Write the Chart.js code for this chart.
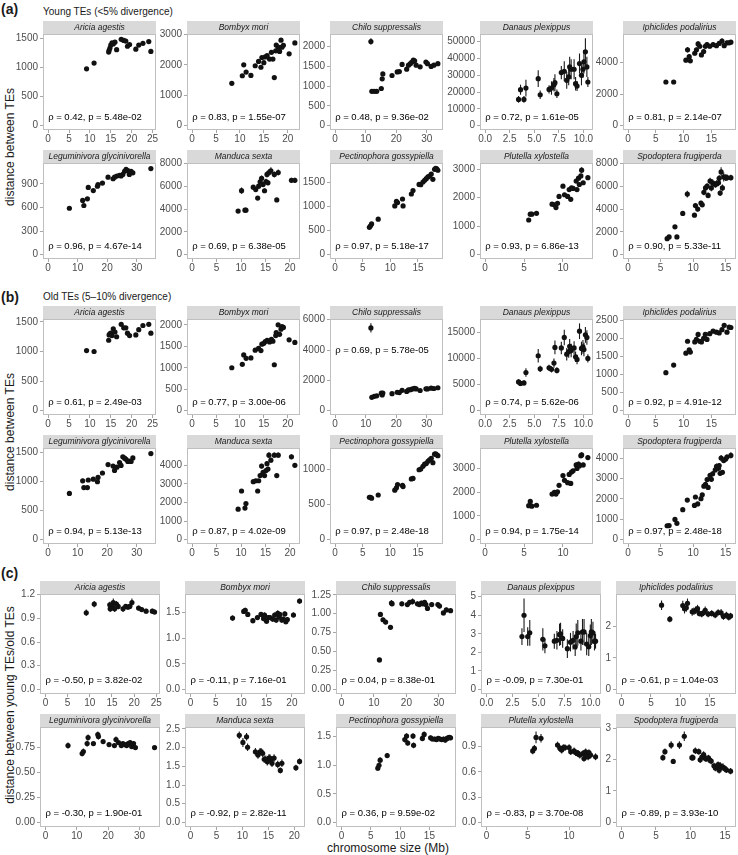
<!DOCTYPE html>
<html><head><meta charset="utf-8">
<script src="https://cdn.jsdelivr.net/npm/chart.js@4.4.1/dist/chart.umd.min.js"></script>
<style>
html,body{margin:0;padding:0;background:#fff;}
body{width:738px;height:855px;position:relative;overflow:hidden;font-family:"Liberation Sans",Arial,Helvetica,sans-serif;}
canvas{position:absolute;}
.t{position:absolute;line-height:1;white-space:nowrap;color:#1a1a1a;}
.yt{position:absolute;width:300px;height:14px;line-height:14px;text-align:center;font-size:12px;color:#1a1a1a;transform:rotate(-90deg);transform-origin:50% 50%;white-space:nowrap;}
</style></head><body>
<div class="t" style="left:1px;top:2px;font-size:14px;font-weight:bold;">(a)</div>
<div class="t" style="left:43px;top:7px;font-size:10px;">Young TEs (&lt;5% divergence)</div>
<div class="t" style="left:1px;top:290px;font-size:14px;font-weight:bold;">(b)</div>
<div class="t" style="left:43px;top:292px;font-size:10px;">Old TEs (5–10% divergence)</div>
<div class="t" style="left:1px;top:566px;font-size:14px;font-weight:bold;">(c)</div>
<div class="yt" style="left:-140px;top:140px;">distance between TEs</div>
<div class="yt" style="left:-140px;top:425px;">distance between TEs</div>
<div class="yt" style="left:-140px;top:698px;">distance between young TEs/old TEs</div>
<div class="t" style="left:288px;top:842px;width:200px;text-align:center;font-size:12px;">chromosome size (Mb)</div>
<script>
// ---------------- DATA ----------------
const SPECIES = ["Aricia agestis","Bombyx mori","Chilo suppressalis","Danaus plexippus","Iphiclides podalirius",
  "Leguminivora glycinivorella","Manduca sexta","Pectinophora gossypiella","Plutella xylostella","Spodoptera frugiperda"];

// chromosome sizes (Mb)
const ariciaSize = [9.2, 11.0, 14.5, 14.6, 14.8, 15.0, 15.3, 15.6, 16.0, 16.4, 17.5, 18.1, 18.6, 19.0, 19.5, 21.0, 21.7, 22.7, 24.1, 24.6];
const ariciaYoung = [980, 1080, 1270, 1300, 1340, 1390, 1430, 1410, 1440, 1310, 1490, 1470, 1460, 1370, 1400, 1320, 1390, 1420, 1450, 1280];
const ariciaYoungErr = [14, 14, 14, 14, 15, 15, 15, 15, 15, 14, 16, 15, 15, 14, 15, 14, 15, 15, 16, 14];
const ariciaOld = [1015, 1000, 1190, 1280, 1300, 1310, 1270, 1385, 1330, 1250, 1460, 1400, 1400, 1310, 1270, 1280, 1370, 1440, 1460, 1310];
const ariciaOldErr = [15, 15, 15, 15, 15, 15, 15, 16, 15, 15, 16, 15, 15, 15, 15, 15, 15, 16, 16, 15];
const ariciaRatio = [0.97, 1.08, 1.07, 1.02, 1.03, 1.06, 1.10, 1.02, 1.08, 1.05, 1.02, 1.05, 1.04, 1.05, 1.10, 1.03, 1.01, 0.99, 0.99, 0.98];
const ariciaRatioErr = [0.04, 0.04, 0.04, 0.04, 0.04, 0.04, 0.05, 0.04, 0.04, 0.04, 0.04, 0.03, 0.03, 0.03, 0.05, 0.03, 0.03, 0.03, 0.03, 0.03];

const bombyxSize = [8.3, 10.5, 10.8, 11.3, 12.3, 13.2, 13.9, 14.4, 14.6, 15.0, 15.3, 15.7, 16.2, 16.6, 16.9, 17.2, 17.5, 17.6, 18.0, 18.3, 18.6, 18.8, 19.1, 20.3, 21.5];
const bombyxYoung = [1390, 1640, 2000, 1760, 1650, 1970, 2110, 1920, 2240, 2070, 2260, 2300, 2190, 2410, 2190, 1580, 2460, 2650, 2580, 2440, 2810, 2580, 2640, 2360, 2720];
const bombyxYoungErr = [30, 35, 40, 35, 35, 40, 40, 40, 45, 40, 45, 45, 40, 45, 40, 35, 45, 50, 50, 45, 60, 50, 50, 45, 50];
const bombyxOld = [1000, 1080, 1300, 1220, 1230, 1410, 1450, 1400, 1550, 1570, 1610, 1640, 1600, 1660, 1620, 1070, 1750, 1820, 2000, 1780, 1900, 1960, 1940, 1650, 1590];
const bombyxOldErr = [20, 25, 25, 25, 25, 30, 30, 30, 30, 30, 30, 30, 30, 30, 30, 25, 30, 35, 35, 30, 35, 35, 35, 30, 30];
const bombyxRatio = [1.39, 1.52, 1.54, 1.46, 1.34, 1.40, 1.46, 1.38, 1.45, 1.33, 1.40, 1.40, 1.37, 1.45, 1.35, 1.48, 1.41, 1.46, 1.35, 1.37, 1.47, 1.32, 1.36, 1.45, 1.72];
const bombyxRatioErr = [0.05, 0.05, 0.05, 0.05, 0.05, 0.05, 0.05, 0.05, 0.05, 0.05, 0.05, 0.05, 0.05, 0.05, 0.05, 0.06, 0.05, 0.05, 0.05, 0.05, 0.05, 0.05, 0.05, 0.05, 0.05];

const chiloSize = [11.7, 12.0, 12.8, 13.6, 15.1, 15.4, 15.6, 18.6, 20.3, 21.0, 21.9, 23.4, 24.0, 24.6, 25.1, 25.6, 26.0, 26.5, 27.8, 29.7, 30.2, 31.4, 32.3, 33.6];
const chiloYoung = [2130, 870, 870, 870, 940, 1185, 1310, 1270, 1360, 1370, 1550, 1430, 1530, 1570, 1610, 1660, 1640, 1530, 1490, 1610, 1570, 1500, 1530, 1570];
const chiloYoungErr = [80, 20, 20, 20, 20, 25, 25, 25, 25, 25, 25, 25, 25, 25, 25, 25, 25, 25, 25, 25, 25, 25, 25, 25];
const chiloOld = [5460, 880, 945, 980, 1150, 1040, 1160, 1120, 1215, 1190, 1340, 1265, 1365, 1380, 1425, 1445, 1465, 1430, 1330, 1440, 1430, 1480, 1460, 1510];
const chiloOldErr = [300, 25, 25, 25, 30, 30, 30, 30, 30, 30, 30, 30, 30, 30, 30, 30, 30, 30, 30, 30, 30, 30, 30, 30];
const chiloRatio = [0.39, 0.99, 0.92, 0.89, 0.82, 1.14, 1.13, 1.13, 1.12, 1.15, 1.16, 1.13, 1.12, 1.14, 1.13, 1.15, 1.12, 1.07, 1.12, 1.12, 1.10, 1.01, 1.05, 1.04];
const chiloRatioErr = [0.03, 0.03, 0.03, 0.03, 0.03, 0.04, 0.03, 0.03, 0.03, 0.03, 0.04, 0.03, 0.03, 0.03, 0.03, 0.03, 0.03, 0.03, 0.03, 0.03, 0.03, 0.03, 0.03, 0.03];

const danausSize = [3.4, 3.6, 3.95, 4.15, 5.4, 5.6, 6.5, 6.75, 7.0, 7.1, 7.3, 7.75, 8.05, 8.3, 8.5, 8.6, 8.75, 9.05, 9.2, 9.35, 9.6, 9.8, 9.95, 10.05, 10.2, 10.35, 10.45];
const danausYoung = [15600, 21400, 15600, 22400, 28000, 18400, 21600, 22400, 24400, 25600, 19000, 31600, 32400, 27000, 29000, 35000, 33600, 33600, 25000, 23600, 37000, 30000, 33600, 38000, 44000, 35000, 26000];
const danausYoungErr = [2000, 3000, 2000, 5000, 5000, 2500, 2500, 4000, 4000, 5000, 2500, 4000, 6000, 5000, 5000, 6000, 6000, 6000, 4000, 3000, 6000, 6000, 5000, 7000, 8000, 6000, 3000];
const danausOld = [5500, 5200, 5300, 7300, 10500, 8000, 8200, 7900, 9100, 12100, 7700, 12000, 14000, 10800, 11300, 12300, 11500, 12000, 10300, 9800, 15200, 11900, 12200, 11700, 14500, 14000, 10000];
const danausOldErr = [500, 500, 500, 800, 1300, 600, 600, 600, 900, 1300, 600, 1200, 1500, 1200, 1200, 1400, 1300, 1300, 1000, 900, 1500, 1300, 1300, 1300, 1500, 1400, 800];
const danausRatio = [2.85, 4.0, 2.85, 3.05, 2.7, 2.35, 2.6, 2.65, 2.95, 3.0, 2.75, 2.2, 2.55, 2.65, 2.3, 2.85, 3.05, 2.6, 3.1, 3.1, 2.45, 2.3, 2.9, 3.1, 3.05, 2.6, 2.6];
const danausRatioErr = [0.45, 0.9, 0.5, 0.7, 0.6, 0.4, 0.4, 0.5, 0.6, 0.6, 0.5, 0.5, 0.5, 0.5, 0.5, 0.7, 0.7, 0.5, 0.7, 0.7, 0.6, 0.5, 0.6, 0.7, 0.6, 0.5, 0.4];

const iphiclidesSize = [6.8, 8.2, 10.4, 10.7, 11.0, 11.2, 12.0, 12.3, 12.6, 12.9, 13.2, 13.6, 13.9, 14.2, 14.7, 15.3, 15.9, 16.4, 16.9, 17.3, 17.8, 18.2, 18.5];
const iphiclidesYoung = [2760, 2760, 4140, 4800, 4360, 4100, 4580, 4800, 5170, 5020, 4470, 4690, 5020, 5130, 5020, 5130, 5060, 5200, 5350, 5060, 5240, 5240, 5280];
const iphiclidesYoungErr = [70, 70, 130, 180, 150, 120, 130, 150, 180, 150, 130, 150, 160, 160, 140, 160, 150, 150, 170, 150, 150, 140, 140];
const iphiclidesOld = [1050, 1260, 1590, 1920, 1680, 1620, 1900, 1970, 2110, 1920, 1900, 2000, 2110, 1970, 2130, 2200, 2170, 2150, 2240, 2360, 2170, 2310, 2300];
const iphiclidesOldErr = [30, 30, 40, 50, 45, 40, 45, 45, 50, 45, 45, 45, 50, 45, 50, 50, 50, 50, 50, 55, 50, 50, 50];
const iphiclidesRatio = [2.66, 2.22, 2.65, 2.55, 2.58, 2.72, 2.45, 2.47, 2.50, 2.55, 2.40, 2.38, 2.42, 2.50, 2.38, 2.40, 2.35, 2.43, 2.42, 2.30, 2.35, 2.28, 2.32];
const iphiclidesRatioErr = [0.15, 0.1, 0.15, 0.15, 0.13, 0.15, 0.12, 0.12, 0.12, 0.12, 0.1, 0.1, 0.1, 0.12, 0.1, 0.1, 0.1, 0.1, 0.12, 0.1, 0.1, 0.1, 0.1];

const leguminivoraSize = [7.2, 11.7, 12.1, 13.3, 13.6, 15.3, 16.7, 16.9, 18.4, 20.3, 22.0, 22.5, 23.3, 24.2, 24.7, 25.3, 25.9, 26.4, 27.0, 27.5, 28.1, 28.7, 34.8];
const leguminivoraYoung = [590, 690, 625, 710, 855, 815, 870, 890, 910, 985, 965, 985, 1000, 1010, 1000, 1020, 1060, 1085, 1070, 1020, 1060, 1040, 1095];
const leguminivoraYoungErr = [12, 14, 12, 14, 15, 14, 15, 15, 15, 15, 15, 15, 15, 15, 15, 15, 16, 16, 16, 15, 16, 15, 15];
const leguminivoraOld = [795, 1010, 895, 895, 1025, 1040, 995, 1070, 1145, 1290, 1265, 1190, 1245, 1325, 1275, 1425, 1400, 1380, 1345, 1350, 1345, 1405, 1480];
const leguminivoraOldErr = [15, 35, 20, 20, 20, 20, 25, 20, 20, 20, 25, 25, 25, 20, 20, 25, 25, 25, 20, 20, 20, 20, 20];
const leguminivoraRatio = [0.77, 0.69, 0.71, 0.79, 0.85, 0.79, 0.88, 0.86, 0.81, 0.78, 0.77, 0.83, 0.80, 0.77, 0.79, 0.78, 0.77, 0.79, 0.80, 0.76, 0.79, 0.75, 0.75];
const leguminivoraRatioErr = [0.03, 0.03, 0.03, 0.03, 0.03, 0.02, 0.03, 0.03, 0.02, 0.02, 0.02, 0.03, 0.02, 0.02, 0.02, 0.02, 0.02, 0.02, 0.02, 0.02, 0.02, 0.02, 0.02];

const manducaSize = [9.4, 10.1, 10.8, 11.0, 12.5, 13.0, 13.4, 13.6, 13.9, 14.2, 14.5, 14.8, 15.1, 15.3, 15.5, 15.7, 16.1, 16.8, 17.3, 17.6, 20.3, 21.0];
const manducaYoung = [3820, 5610, 3900, 3900, 5910, 5700, 4960, 6000, 6390, 6690, 6150, 5600, 6400, 7030, 6300, 7200, 7350, 7030, 4800, 7200, 6510, 6510];
const manducaYoungErr = [120, 280, 120, 120, 200, 200, 150, 220, 250, 250, 250, 200, 250, 260, 250, 280, 300, 260, 150, 260, 220, 220];
const manducaOld = [1640, 2620, 1700, 1940, 3120, 3170, 2620, 3170, 3450, 3960, 3630, 3450, 3720, 4090, 3800, 4550, 4280, 4550, 3450, 4550, 4460, 4000];
const manducaOldErr = [60, 80, 60, 60, 100, 100, 80, 100, 120, 130, 120, 100, 120, 130, 120, 150, 130, 140, 90, 140, 130, 110];
const manducaRatio = [2.33, 2.14, 2.29, 2.01, 1.89, 1.80, 1.89, 1.89, 1.85, 1.69, 1.69, 1.62, 1.72, 1.72, 1.66, 1.58, 1.72, 1.55, 1.39, 1.58, 1.46, 1.63];
const manducaRatioErr = [0.1, 0.12, 0.1, 0.1, 0.1, 0.1, 0.1, 0.1, 0.1, 0.1, 0.1, 0.1, 0.1, 0.1, 0.1, 0.1, 0.1, 0.1, 0.08, 0.1, 0.08, 0.08];

const pectinophoraSize = [6.2, 6.4, 6.6, 7.8, 10.8, 11.1, 11.3, 12.2, 12.3, 13.8, 14.1, 15.2, 15.5, 15.9, 16.2, 16.5, 16.8, 17.1, 17.4, 17.7, 18.0, 18.2, 18.4, 18.6];
const pectinophoraYoung = [570, 600, 640, 740, 1015, 1110, 1085, 1160, 1015, 1265, 1335, 1465, 1460, 1515, 1550, 1585, 1620, 1640, 1680, 1570, 1780, 1800, 1790, 1760];
const pectinophoraYoungErr = [12, 12, 12, 14, 15, 16, 16, 16, 15, 18, 18, 18, 18, 18, 18, 18, 18, 18, 18, 18, 20, 20, 20, 20];
const pectinophoraOld = [600, 600, 587, 632, 700, 735, 780, 768, 752, 860, 867, 990, 1000, 1038, 1069, 1078, 1110, 1131, 1151, 1090, 1211, 1216, 1201, 1189];
const pectinophoraOldErr = [12, 12, 12, 12, 14, 15, 15, 15, 15, 16, 16, 18, 18, 18, 18, 18, 18, 18, 18, 18, 20, 20, 20, 20];
const pectinophoraRatio = [0.95, 1.00, 1.09, 1.17, 1.45, 1.51, 1.39, 1.51, 1.35, 1.47, 1.54, 1.48, 1.46, 1.46, 1.45, 1.47, 1.46, 1.45, 1.46, 1.44, 1.47, 1.48, 1.49, 1.48];
const pectinophoraRatioErr = [0.04, 0.04, 0.05, 0.04, 0.05, 0.05, 0.05, 0.05, 0.05, 0.05, 0.05, 0.04, 0.04, 0.04, 0.04, 0.04, 0.04, 0.04, 0.04, 0.04, 0.04, 0.04, 0.04, 0.04];

const plutellaSize = [5.6, 5.8, 6.0, 6.6, 8.6, 8.9, 9.1, 9.3, 9.5, 10.0, 10.2, 10.6, 10.8, 11.0, 11.1, 11.3, 11.7, 11.8, 12.0, 12.1, 12.3, 12.4, 12.6, 13.2];
const plutellaYoung = [1215, 1420, 1420, 1450, 1770, 1750, 1650, 1800, 2040, 2400, 2100, 2040, 2280, 1940, 2340, 2320, 2580, 2280, 2680, 2460, 2760, 2960, 2520, 2700];
const plutellaYoungErr = [30, 35, 35, 35, 45, 45, 40, 45, 50, 60, 55, 50, 60, 50, 60, 60, 70, 60, 70, 65, 80, 100, 65, 70];
const plutellaOld = [1430, 1610, 1410, 1450, 1920, 1990, 1920, 2020, 2290, 2700, 2500, 2400, 2750, 2370, 2850, 2900, 3150, 3000, 3190, 3110, 3540, 3570, 3150, 3460];
const plutellaOldErr = [40, 50, 40, 40, 55, 55, 55, 60, 65, 80, 70, 70, 80, 70, 85, 85, 95, 90, 95, 90, 110, 110, 95, 100];
const plutellaRatio = [0.85, 0.88, 1.01, 1.00, 0.92, 0.88, 0.86, 0.89, 0.89, 0.89, 0.84, 0.85, 0.83, 0.82, 0.82, 0.80, 0.82, 0.76, 0.84, 0.79, 0.78, 0.83, 0.80, 0.78];
const plutellaRatioErr = [0.04, 0.04, 0.07, 0.05, 0.04, 0.04, 0.04, 0.04, 0.04, 0.04, 0.04, 0.04, 0.04, 0.04, 0.04, 0.04, 0.04, 0.04, 0.04, 0.04, 0.04, 0.04, 0.04, 0.04];

const spodopteraSize = [6.0, 6.3, 7.2, 7.5, 8.4, 9.1, 10.2, 10.35, 10.7, 11.2, 11.4, 11.65, 11.9, 12.15, 12.3, 12.6, 12.8, 13.0, 13.4, 13.6, 13.9, 14.0, 14.15, 14.3, 14.5, 14.7, 15.0, 15.2, 15.8];
const spodopteraYoung = [1400, 1550, 2440, 1550, 3610, 5310, 3460, 4300, 3990, 4520, 4370, 5460, 5850, 6000, 5190, 6450, 5850, 6300, 6150, 6210, 6300, 6690, 5400, 7250, 5850, 6810, 6750, 6750, 6750];
const spodopteraYoungErr = [80, 80, 120, 100, 150, 300, 150, 200, 200, 200, 200, 250, 250, 250, 250, 300, 300, 300, 300, 300, 300, 300, 250, 400, 300, 400, 300, 300, 250];
const spodopteraOld = [680, 690, 990, 800, 1470, 1940, 1680, 2090, 1750, 2010, 2200, 2620, 2710, 2950, 2560, 3150, 2960, 3230, 3420, 3600, 3500, 3630, 3250, 4000, 3300, 3880, 3950, 4050, 4130];
const spodopteraOldErr = [40, 40, 50, 45, 60, 80, 70, 80, 70, 80, 80, 100, 100, 110, 100, 120, 110, 120, 120, 130, 130, 130, 120, 150, 120, 140, 140, 140, 150];
const spodopteraRatio = [2.06, 2.25, 2.46, 1.94, 2.46, 2.74, 2.06, 2.06, 2.28, 2.25, 1.99, 2.08, 2.16, 2.03, 2.03, 2.05, 1.98, 1.95, 1.80, 1.73, 1.80, 1.84, 1.66, 1.80, 1.77, 1.76, 1.71, 1.67, 1.63];
const spodopteraRatioErr = [0.1, 0.1, 0.12, 0.08, 0.12, 0.15, 0.1, 0.1, 0.1, 0.1, 0.1, 0.1, 0.1, 0.1, 0.1, 0.1, 0.1, 0.1, 0.1, 0.1, 0.1, 0.1, 0.1, 0.12, 0.1, 0.12, 0.1, 0.1, 0.1];

// tick labels
const X_TICKS = [["0","5","10","15","20","25"],["0","5","10","15","20"],["0","10","20","30"],["0.0","2.5","5.0","7.5","10.0"],["0","5","10","15"],
  ["0","10","20","30"],["0","5","10","15","20"],["0","5","10","15"],["0","5","10"],["0","5","10","15"]];
const Y_TICKS_A = [["0","500","1000","1500"],["0","1000","2000","3000"],["0","500","1000","1500","2000"],["0","10000","20000","30000","40000","50000"],["0","2000","4000"],
  ["0","300","600","900"],["0","2000","4000","6000","8000"],["0","500","1000","1500"],["0","1000","2000","3000"],["0","2000","4000","6000","8000"]];
const Y_TICKS_B = [["0","500","1000","1500"],["0","500","1000","1500","2000"],["0","2000","4000","6000"],["0","5000","10000","15000"],["0","500","1000","1500","2000","2500"],
  ["0","500","1000","1500"],["0","1000","2000","3000","4000"],["0","500","1000"],["0","1000","2000","3000"],["0","1000","2000","3000","4000"]];
const Y_TICKS_C = [["0.0","0.3","0.6","0.9","1.2"],["0.0","0.5","1.0","1.5"],["0.00","0.25","0.50","0.75","1.00","1.25"],["0","1","2","3","4","5"],["0","1","2"],
  ["0.00","0.25","0.50","0.75"],["0.0","0.5","1.0","1.5","2.0","2.5"],["0.0","0.5","1.0","1.5"],["0.0","0.3","0.6","0.9"],["0","1","2","3"]];

// correlation annotations
const RHO_A = ["ρ = 0.42, p = 5.48e-02","ρ = 0.83, p = 1.55e-07","ρ = 0.48, p = 9.36e-02","ρ = 0.72, p = 1.61e-05","ρ = 0.81, p = 2.14e-07",
  "ρ = 0.96, p = 4.67e-14","ρ = 0.69, p = 6.38e-05","ρ = 0.97, p = 5.18e-17","ρ = 0.93, p = 6.86e-13","ρ = 0.90, p = 5.33e-11"];
const RHO_B = ["ρ = 0.61, p = 2.49e-03","ρ = 0.77, p = 3.00e-06","ρ = 0.69, p = 5.78e-05","ρ = 0.74, p = 5.62e-06","ρ = 0.92, p = 4.91e-12",
  "ρ = 0.94, p = 5.13e-13","ρ = 0.87, p = 4.02e-09","ρ = 0.97, p = 2.48e-18","ρ = 0.94, p = 1.75e-14","ρ = 0.97, p = 2.48e-18"];
const RHO_C = ["ρ = -0.50, p = 3.82e-02","ρ = -0.11, p = 7.16e-01","ρ = 0.04, p = 8.38e-01","ρ = -0.09, p = 7.30e-01","ρ = -0.61, p = 1.04e-03",
  "ρ = -0.30, p = 1.90e-01","ρ = -0.92, p = 2.82e-11","ρ = 0.36, p = 9.59e-02","ρ = -0.83, p = 3.70e-08","ρ = -0.89, p = 3.93e-10"];

// ---------------- ASSEMBLY ----------------
const SIZES = [ariciaSize, bombyxSize, chiloSize, danausSize, iphiclidesSize, leguminivoraSize, manducaSize, pectinophoraSize, plutellaSize, spodopteraSize];
const SERIES = [
  [ariciaYoung, bombyxYoung, chiloYoung, danausYoung, iphiclidesYoung, leguminivoraYoung, manducaYoung, pectinophoraYoung, plutellaYoung, spodopteraYoung],
  [ariciaOld, bombyxOld, chiloOld, danausOld, iphiclidesOld, leguminivoraOld, manducaOld, pectinophoraOld, plutellaOld, spodopteraOld],
  [ariciaRatio, bombyxRatio, chiloRatio, danausRatio, iphiclidesRatio, leguminivoraRatio, manducaRatio, pectinophoraRatio, plutellaRatio, spodopteraRatio]];
const ERRORS = [
  [ariciaYoungErr, bombyxYoungErr, chiloYoungErr, danausYoungErr, iphiclidesYoungErr, leguminivoraYoungErr, manducaYoungErr, pectinophoraYoungErr, plutellaYoungErr, spodopteraYoungErr],
  [ariciaOldErr, bombyxOldErr, chiloOldErr, danausOldErr, iphiclidesOldErr, leguminivoraOldErr, manducaOldErr, pectinophoraOldErr, plutellaOldErr, spodopteraOldErr],
  [ariciaRatioErr, bombyxRatioErr, chiloRatioErr, danausRatioErr, iphiclidesRatioErr, leguminivoraRatioErr, manducaRatioErr, pectinophoraRatioErr, plutellaRatioErr, spodopteraRatioErr]];
const Y_TICKS = [Y_TICKS_A, Y_TICKS_B, Y_TICKS_C];
const RHO = [RHO_A, RHO_B, RHO_C];

const FONT = '"Liberation Sans", Arial, Helvetica, sans-serif';
Chart.defaults.font.family = FONT;

const AXW = 40, RP = 12, STRIP = 13, XAX = 16;
const LAYOUT = [
  {top: [21, 150], H: 96, lefts: [43, 187, 330, 480, 623], W: 113},
  {top: [306, 435], H: 96, lefts: [43, 187, 330, 480, 623], W: 113},
  {top: [581, 714], H: 100, lefts: [40, 185, 336, 481, 616], W: 120}];

const panelPlugin = {
  id: 'panel',
  beforeDraw(chart) {
    const ctx = chart.ctx, a = chart.chartArea, t = chart.titleBlock;
    ctx.save();
    ctx.fillStyle = '#d9d9d9';
    ctx.fillRect(a.left, t.top, a.right - a.left, a.top - t.top);
    ctx.restore();
  },
  beforeDatasetsDraw(chart) {
    const ctx = chart.ctx, xs = chart.scales.x, ys = chart.scales.y;
    ctx.save();
    ctx.strokeStyle = '#1a1a1a'; ctx.lineWidth = 1.1;
    chart.data.datasets[0].data.forEach(d => {
      if (!d.e) return;
      const px = xs.getPixelForValue(d.x);
      ctx.beginPath();
      ctx.moveTo(px, ys.getPixelForValue(d.y - d.e));
      ctx.lineTo(px, ys.getPixelForValue(d.y + d.e));
      ctx.stroke();
    });
    ctx.restore();
  },
  afterDraw(chart, args, o) {
    const ctx = chart.ctx, a = chart.chartArea;
    ctx.save();
    ctx.strokeStyle = '#bfbfbf'; ctx.lineWidth = 1;
    ctx.strokeRect(Math.round(a.left) + 0.5, Math.round(a.top) + 0.5, Math.round(a.right - a.left) - 1, Math.round(a.bottom - a.top) - 1);
    ctx.fillStyle = '#000';
    ctx.font = '9.5px ' + FONT;
    ctx.textBaseline = 'middle'; ctx.textAlign = 'left';
    ctx.fillText(o.text, chart.scales.x.getPixelForValue(0), chart.scales.y.getPixelForValue(o.ty));
    ctx.restore();
  }
};

function buildPanel(sec, i) {
  const L = LAYOUT[sec];
  const row = Math.floor(i / 5), col = i % 5;
  const xsArr = SIZES[i], ysArr = SERIES[sec][i], esArr = ERRORS[sec][i];
  const pts = xsArr.map((x, k) => ({x: x, y: ysArr[k], e: esArr[k] || 0}));
  const xmax = Math.max(...xsArr);
  const ymax = Math.max(...pts.map(p => p.y + p.e));
  const yt = Y_TICKS[sec][i], xt = X_TICKS[i];
  const ty = (sec === 1 && i === 2) ? 4000 : 0.1 * ymax;
  const cv = document.createElement('canvas');
  const w = AXW + L.W + RP, h = STRIP + L.H + XAX;
  cv.width = w; cv.height = h;
  cv.style.width = w + 'px'; cv.style.height = h + 'px';
  cv.style.left = (L.lefts[col] - AXW) + 'px';
  cv.style.top = L.top[row] + 'px';
  document.body.appendChild(cv);
  const tickFont = {family: FONT, size: 10};
  const gridOpts = {display: true, drawOnChartArea: false, drawTicks: true, tickLength: 3, color: '#a6a6a6', lineWidth: 1};
  new Chart(cv, {
    type: 'scatter',
    data: {datasets: [{data: pts, pointRadius: 2.6, pointHoverRadius: 2.6, backgroundColor: '#111', borderWidth: 0}]},
    options: {
      responsive: false, animation: false, devicePixelRatio: 1, events: [],
      layout: {padding: {left: 0, right: RP, top: 0, bottom: 0}},
      plugins: {
        legend: {display: false}, tooltip: {enabled: false},
        title: {display: true, text: SPECIES[i], fullSize: false, align: 'center', color: '#1a1a1a',
          font: {family: FONT, size: 8.5, style: 'italic', weight: 'normal', lineHeight: 1}, padding: {top: 2.25, bottom: 2.25}},
        panel: {text: RHO[sec][i], ty: ty}
      },
      scales: {
        x: {type: 'linear', position: 'bottom', min: -0.05 * xmax, max: 1.05 * xmax,
          afterFit: s => { s.height = XAX; },
          afterBuildTicks: s => { s.ticks = xt.map(v => ({value: parseFloat(v)})); },
          ticks: {callback: (v, k) => xt[k], autoSkip: false, maxRotation: 0, minRotation: 0, color: '#4d4d4d', font: tickFont, padding: 0},
          grid: gridOpts, border: {display: false}},
        y: {type: 'linear', position: 'left', min: -0.05 * ymax, max: 1.05 * ymax,
          afterFit: s => { s.width = AXW; },
          afterBuildTicks: s => { s.ticks = yt.map(v => ({value: parseFloat(v)})); },
          ticks: {callback: (v, k) => yt[k], autoSkip: false, color: '#4d4d4d', font: tickFont, padding: 2},
          grid: gridOpts, border: {display: false}}
      }
    },
    plugins: [panelPlugin]
  });
}

for (let sec = 0; sec < 3; sec++) for (let i = 0; i < 10; i++) buildPanel(sec, i);
</script>
</body></html>
